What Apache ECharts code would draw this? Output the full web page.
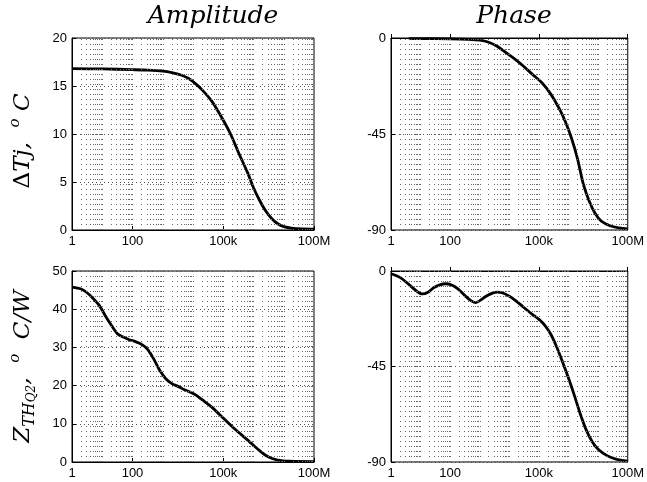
<!DOCTYPE html>
<html><head><meta charset="utf-8">
<script src="https://cdn.jsdelivr.net/npm/echarts@6/dist/echarts.min.js"></script>
<style>html,body{margin:0;padding:0;background:#fff}#c{width:647px;height:482px}</style>
</head><body><div id="c"></div>
<script>
// ---- data ----
const xTickValues = [1, 100, 1e5, 1e8];
const xTickLabels = ['1', '100', '100k', '100M'];

const freqAmp1 = [1, 10, 100, 316, 1000, 2000, 4000, 7000, 12600, 20000, 40000, 79000, 174000, 316000, 631000, 1000000, 1580000, 2510000, 3980000, 6310000, 1e7, 2e7, 4e7, 1e8];
const amp1 = [16.8, 16.78, 16.7, 16.65, 16.55, 16.4, 16.15, 15.8, 15.2, 14.6, 13.5, 12.0, 10.0, 8.1, 6.0, 4.4, 3.1, 2.0, 1.2, 0.65, 0.35, 0.18, 0.12, 0.1];

const freqPh1 = [4, 10, 100, 398, 1000, 2000, 3980, 7940, 15800, 31600, 63100, 126000, 251000, 501000, 794000, 1260000, 2000000, 3160000, 5010000, 7940000, 1.26e7, 2.51e7, 5.01e7, 1e8];
const ph1 = [-0.3, -0.3, -0.4, -0.6, -1.0, -2.0, -4.0, -7.0, -10.0, -13.5, -17.3, -21.0, -26.3, -33.5, -39.5, -47, -56.5, -68.5, -76.5, -82.3, -85.8, -88, -89, -89.5];

const freqAmp2 = [1, 2, 3.16, 5.01, 7.94, 12.6, 20, 31.6, 50.1, 79.4, 126, 200, 316, 501, 794, 1260, 2000, 3160, 5010, 7940, 12600, 20000, 39800, 100000, 251000, 631000, 1580000, 3160000, 6310000, 1.58e7, 1e8];
const amp2 = [45.8, 45.3, 44.3, 42.8, 41.0, 38.3, 35.8, 33.6, 32.7, 32.0, 31.5, 30.8, 29.5, 27.0, 24.0, 21.8, 20.5, 19.8, 19.0, 18.3, 17.5, 16.3, 14.5, 11.5, 8.5, 5.8, 3.0, 1.3, 0.5, 0.2, 0.1];

const freqPh2 = [1, 2, 3.98, 7.08, 11.2, 17.8, 28.2, 44.7, 70.8, 112, 178, 316, 501, 708, 1000, 1580, 2820, 3980, 6310, 10000, 15800, 31600, 63100, 100000, 158000, 251000, 398000, 631000, 1000000, 1580000, 2510000, 3980000, 6310000, 1e7, 2e7, 3.98e7, 1e8];
const ph2 = [-1.3, -3.0, -6.3, -9.3, -10.8, -10.0, -7.8, -6.5, -6.0, -6.6, -8.3, -11.6, -14.0, -14.9, -14.0, -12.0, -10.3, -10.0, -10.5, -11.9, -13.8, -17.3, -20.7, -22.8, -25.6, -29.8, -35.8, -43.0, -50.5, -58.7, -67.5, -75, -80.5, -84.0, -87.0, -88.6, -89.6];

// ---- layout / styling ----
const vLines = [];
for (let n = 0; n < 8; n++) for (let k = 1; k <= 9; k++) {
  const v = k * Math.pow(10, n);
  if (v > 1 && v < 1e8) vLines.push({ xAxis: v });
}
const gridDefs = [
  { left: 72, top: 38, width: 242, height: 192 },
  { left: 391, top: 38, width: 242, height: 192 },
  { left: 72, top: 271, width: 242, height: 191 },
  { left: 391, top: 271, width: 242, height: 191 }
];
const yDefs = [
  { min: 0, max: 20, interval: 5 },
  { min: -90, max: 0, interval: 45 },
  { min: 0, max: 50, interval: 10 },
  { min: -90, max: 0, interval: 45 }
];
const seriesData = [[freqAmp1, amp1], [freqPh1, ph1], [freqAmp2, amp2], [freqPh2, ph2]];
const tickFont = { color: '#000', fontFamily: 'Liberation Sans, Arial, sans-serif', fontSize: 13 };
const serif = 'DejaVu Serif';

const yNames = [
  { name: '{d|Δ}{m|Tj,  }{s|o}{m| C}', gap: 34, pad: [0, 14, 0, 0] },
  null,
  { name: '{m|Z}{s1|TH}{s2|Q2}{m|,  }{s|o}{m|  C/W}', gap: 34, pad: [0, 0, 0, 0] },
  null
];
const rich = {
  d: { fontFamily: serif, fontSize: 23, lineHeight: 30, color: '#000' },
  m: { fontFamily: serif, fontStyle: 'italic', fontSize: 23, lineHeight: 30, color: '#000' },
  s: { fontFamily: serif, fontStyle: 'italic', fontSize: 15, lineHeight: 15, verticalAlign: 'top', color: '#000' },
  s1: { fontFamily: serif, fontStyle: 'italic', fontSize: 16, lineHeight: 16, verticalAlign: 'bottom', color: '#000' },
  s2: { fontFamily: serif, fontStyle: 'italic', fontSize: 12, lineHeight: 9, verticalAlign: 'bottom', color: '#000' }
};

const option = {
  animation: false,
  backgroundColor: '#fff',
  grid: gridDefs.map(g => Object.assign({ show: true, borderColor: '#000', borderWidth: 1, backgroundColor: 'transparent' }, g)),
  xAxis: gridDefs.map((g, i) => ({
    type: 'log', logBase: 10, gridIndex: i, min: 1, max: 1e8,
    axisLine: { show: true, lineStyle: { color: '#000', width: 1 } },
    axisTick: { show: true, inside: true, length: 4, customValues: xTickValues, lineStyle: { color: '#000' } },
    axisLabel: Object.assign({
      customValues: xTickValues, margin: 5, showMinLabel: true, showMaxLabel: true,
      formatter: v => { const idx = xTickValues.findIndex(t => Math.abs(Math.log10(t) - Math.log10(v)) < 1e-6); return idx >= 0 ? xTickLabels[idx] : ''; }
    }, tickFont),
    splitLine: { show: false }
  })),
  yAxis: yDefs.map((d, i) => ({
    type: 'value', gridIndex: i, min: d.min, max: d.max, interval: d.interval,
    axisLine: { show: true, lineStyle: { color: '#000', width: 1 } },
    axisTick: { show: true, inside: true, length: 4, lineStyle: { color: '#000' } },
    axisLabel: Object.assign({ margin: 5 }, tickFont),
    splitLine: { show: true, lineStyle: { color: '#555', type: [1, 3], width: 1 } },
    name: yNames[i] ? yNames[i].name : '',
    nameLocation: 'middle', nameRotate: 90, nameGap: yNames[i] ? yNames[i].gap : 0,
    nameTextStyle: { rich: rich, padding: yNames[i] ? yNames[i].pad : 0 }
  })),
  graphic: [
    { type: 'text', x: 213, y: 4, style: { text: 'Amplitude', font: 'italic 25px "DejaVu Serif"', fill: '#000', align: 'center', verticalAlign: 'top' } },
    { type: 'text', x: 514, y: 4, style: { text: 'Phase', font: 'italic 25px "DejaVu Serif"', fill: '#000', align: 'center', verticalAlign: 'top' } }
  ],
  series: seriesData.map((sd, i) => ({
    type: 'line', xAxisIndex: i, yAxisIndex: i,
    data: sd[0].map((f, j) => [f, sd[1][j]]),
    showSymbol: false, smooth: 0.3,
    lineStyle: { color: '#000', width: 2.8 },
    markLine: {
      silent: true, symbol: ['none', 'none'], label: { show: false },
      lineStyle: { color: '#666', type: [1, 4], width: 1 },
      emphasis: { disabled: true },
      data: vLines
    }
  }))
};
const chart = echarts.init(document.getElementById('c'), null, { renderer: 'canvas' });
chart.setOption(option);
</script></body></html>
